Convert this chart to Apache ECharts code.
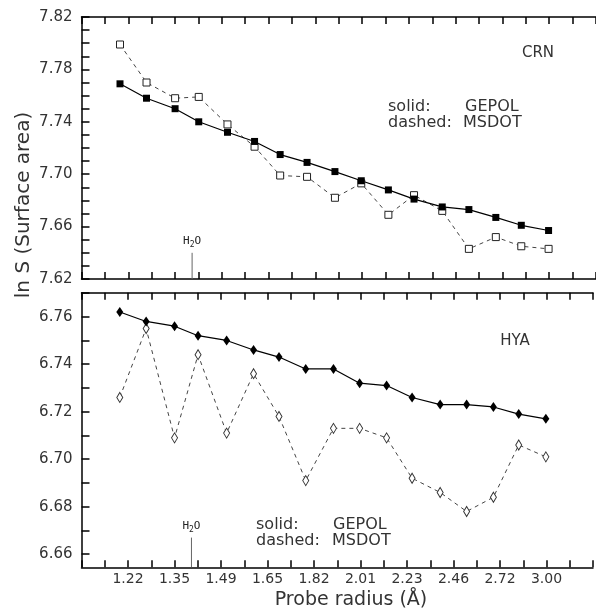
<!DOCTYPE html>
<html>
<head>
<meta charset="utf-8">
<script src="https://cdn.jsdelivr.net/npm/echarts@6/dist/echarts.min.js"></script>
<style>
html, body { margin: 0; background: #fff; }
#show { width: 596px; height: 611px; }
</style>
</head>
<body>
<div id="show"></div>
<script>
// probe radii (Å)
var radius = [1.20, 1.27, 1.35, 1.42, 1.51, 1.60, 1.69, 1.79, 1.90, 2.01, 2.13, 2.25, 2.39, 2.53, 2.68, 2.83, 3.00];

// CRN panel, ln S
var crnGepol = [7.769, 7.758, 7.750, 7.740, 7.732, 7.725, 7.715, 7.709, 7.702, 7.695, 7.688, 7.681, 7.675, 7.673, 7.667, 7.661, 7.657];
var crnMsdot = [7.799, 7.770, 7.758, 7.759, 7.738, 7.721, 7.699, 7.698, 7.682, 7.693, 7.669, 7.684, 7.672, 7.643, 7.652, 7.645, 7.643];

// HYA panel, ln S
var hyaGepol = [6.762, 6.758, 6.756, 6.752, 6.750, 6.746, 6.743, 6.738, 6.738, 6.732, 6.731, 6.726, 6.723, 6.723, 6.722, 6.719, 6.717];
var hyaMsdot = [6.726, 6.755, 6.709, 6.744, 6.711, 6.736, 6.718, 6.691, 6.713, 6.713, 6.709, 6.692, 6.686, 6.678, 6.684, 6.706, 6.701];

// tick labels
var xTickLabels = ['1.22', '1.35', '1.49', '1.65', '1.82', '2.01', '2.23', '2.46', '2.72', '3.00'];
var crnTickLabels = ['7.62', '7.66', '7.70', '7.74', '7.78', '7.82'];
var hyaTickLabels = ['6.66', '6.68', '6.70', '6.72', '6.74', '6.76'];
var hyaTicks = [6.66, 6.67, 6.68, 6.69, 6.70, 6.71, 6.72, 6.73, 6.74, 6.75, 6.76, 6.77];

// water probe marker
var waterRadius = 1.40;
var crnWaterTop = 7.640;
var hyaWaterTop = 6.667;

var crnRange = [7.62, 7.82];
var hyaRange = [6.6545, 6.7701];

var FONT = 'DejaVu Sans';
var TXT = '#333';
var TICK = { color: '#000', width: 1.5 };

function pairs(ys) {
    return radius.map(function (r, i) { return [Math.log(r), ys[i]]; });
}

// x axis is ln(r); ticks every 0.05, labels every 0.1
function makeX(gridIndex, position, showLabel) {
    return {
        type: 'value',
        gridIndex: gridIndex,
        position: position,
        min: 0.1,
        max: 1.2,
        interval: 0.05,
        axisLine: { show: true, onZero: false, lineStyle: { color: '#000', width: 1.5 } },
        axisTick: { show: true, inside: true, length: 7, lineStyle: TICK },
        splitLine: { show: false },
        axisLabel: {
            show: showLabel,
            margin: 5,
            color: TXT,
            fontFamily: FONT,
            fontSize: 14,
            interval: 0,
            formatter: function (v) {
                var k = Math.round(v * 20);
                if (k % 2 !== 0) return '';
                var i = k / 2 - 2;
                return (i >= 0 && i < xTickLabels.length) ? xTickLabels[i] : '';
            }
        }
    };
}

function waterSeries(xi, yi, yMin, yTop) {
    var x = Math.log(waterRadius);
    return {
        type: 'line',
        xAxisIndex: xi,
        yAxisIndex: yi,
        symbol: 'circle',
        symbolSize: 0,
        showSymbol: true,
        silent: true,
        lineStyle: { color: '#666', width: 1 },
        data: [
            [x, yMin],
            {
                value: [x, yTop],
                label: {
                    show: true,
                    position: 'top',
                    distance: 4,
                    formatter: 'H{s|2}O',
                    color: '#222',
                    fontFamily: 'DejaVu Sans Mono',
                    fontSize: 11,
                    rich: { s: { fontSize: 8, padding: [7, 0, 0, 0], fontFamily: 'DejaVu Sans Mono', color: '#222' } }
                }
            }
        ]
    };
}

var myChart = echarts.init(document.getElementById('show'));

myChart.setOption({
    animation: false,
    grid: [
        { left: 81.5, top: 17, width: 522.7, height: 262 },
        { left: 81.5, top: 292.7, width: 522.7, height: 274.6 }
    ],
    xAxis: [
        makeX(0, 'bottom', false),
        makeX(0, 'top', false),
        makeX(1, 'bottom', true),
        makeX(1, 'top', false)
    ],
    yAxis: [
        {
            type: 'value',
            gridIndex: 0,
            min: crnRange[0],
            max: crnRange[1],
            interval: 0.01,
            axisLine: { show: true, onZero: false, lineStyle: { color: '#000', width: 1.5 } },
            axisTick: { show: true, inside: true, length: 8, lineStyle: TICK },
            splitLine: { show: false },
            axisLabel: {
                margin: 9,
                color: TXT,
                fontFamily: FONT,
                fontSize: 15,
                interval: 0,
                formatter: function (v) {
                    var k = Math.round((v - crnRange[0]) / 0.01);
                    return k % 4 === 0 ? crnTickLabels[k / 4] : '';
                }
            }
        },
        {
            type: 'value',
            gridIndex: 1,
            min: hyaRange[0],
            max: hyaRange[1],
            axisLine: { show: true, onZero: false, lineStyle: { color: '#000', width: 1.5 } },
            axisTick: { show: true, inside: true, length: 8, customValues: hyaTicks, lineStyle: TICK },
            splitLine: { show: false },
            axisLabel: {
                margin: 9,
                color: TXT,
                fontFamily: FONT,
                fontSize: 15,
                customValues: hyaTickLabels.map(Number),
                formatter: function (v) { return v.toFixed(2); }
            }
        }
    ],
    series: [
        waterSeries(0, 0, crnRange[0], crnWaterTop),
        waterSeries(2, 1, hyaRange[0], hyaWaterTop),
        {
            name: 'CRN MSDOT',
            type: 'line',
            xAxisIndex: 0, yAxisIndex: 0,
            data: pairs(crnMsdot),
            symbol: 'rect',
            symbolSize: 7,
            lineStyle: { color: '#444', width: 1, type: [4, 4] },
            itemStyle: { color: '#fff', borderColor: '#222', borderWidth: 1 }
        },
        {
            name: 'CRN GEPOL',
            type: 'line',
            xAxisIndex: 0, yAxisIndex: 0,
            data: pairs(crnGepol),
            symbol: 'rect',
            symbolSize: 7,
            lineStyle: { color: '#000', width: 1.2 },
            itemStyle: { color: '#000' }
        },
        {
            name: 'HYA MSDOT',
            type: 'line',
            xAxisIndex: 2, yAxisIndex: 1,
            data: pairs(hyaMsdot),
            symbol: 'diamond',
            symbolSize: [6, 10],
            lineStyle: { color: '#444', width: 1, type: [4, 4] },
            itemStyle: { color: '#fff', borderColor: '#333', borderWidth: 1 }
        },
        {
            name: 'HYA GEPOL',
            type: 'line',
            xAxisIndex: 2, yAxisIndex: 1,
            data: pairs(hyaGepol),
            symbol: 'diamond',
            symbolSize: [7, 10],
            lineStyle: { color: '#000', width: 1.2 },
            itemStyle: { color: '#000' }
        }
    ],
    graphic: [
        { type: 'text', x: 538, y: 53, style: { text: 'CRN', font: '15px "DejaVu Sans"', fill: TXT, align: 'center', verticalAlign: 'middle' } },
        { type: 'text', x: 388, y: 107, style: { text: 'solid:', font: '16px "DejaVu Sans"', fill: TXT, verticalAlign: 'middle' } },
        { type: 'text', x: 465, y: 107, style: { text: 'GEPOL', font: '16px "DejaVu Sans"', fill: TXT, verticalAlign: 'middle' } },
        { type: 'text', x: 388, y: 123, style: { text: 'dashed:', font: '16px "DejaVu Sans"', fill: TXT, verticalAlign: 'middle' } },
        { type: 'text', x: 463, y: 123, style: { text: 'MSDOT', font: '16px "DejaVu Sans"', fill: TXT, verticalAlign: 'middle' } },
        { type: 'text', x: 515, y: 341, style: { text: 'HYA', font: '15px "DejaVu Sans"', fill: TXT, align: 'center', verticalAlign: 'middle' } },
        { type: 'text', x: 256, y: 525, style: { text: 'solid:', font: '16px "DejaVu Sans"', fill: TXT, verticalAlign: 'middle' } },
        { type: 'text', x: 333, y: 525, style: { text: 'GEPOL', font: '16px "DejaVu Sans"', fill: TXT, verticalAlign: 'middle' } },
        { type: 'text', x: 256, y: 541, style: { text: 'dashed:', font: '16px "DejaVu Sans"', fill: TXT, verticalAlign: 'middle' } },
        { type: 'text', x: 332, y: 541, style: { text: 'MSDOT', font: '16px "DejaVu Sans"', fill: TXT, verticalAlign: 'middle' } },
        { type: 'text', x: 351, y: 600, style: { text: 'Probe radius (Å)', font: '19px "DejaVu Sans"', fill: TXT, align: 'center', verticalAlign: 'middle' } },
        { type: 'text', x: 24, y: 205, rotation: Math.PI / 2, style: { text: 'ln S (Surface area)', font: '20px "DejaVu Sans"', fill: TXT, align: 'center', verticalAlign: 'middle' } }
    ]
});
</script>
</body>
</html>
